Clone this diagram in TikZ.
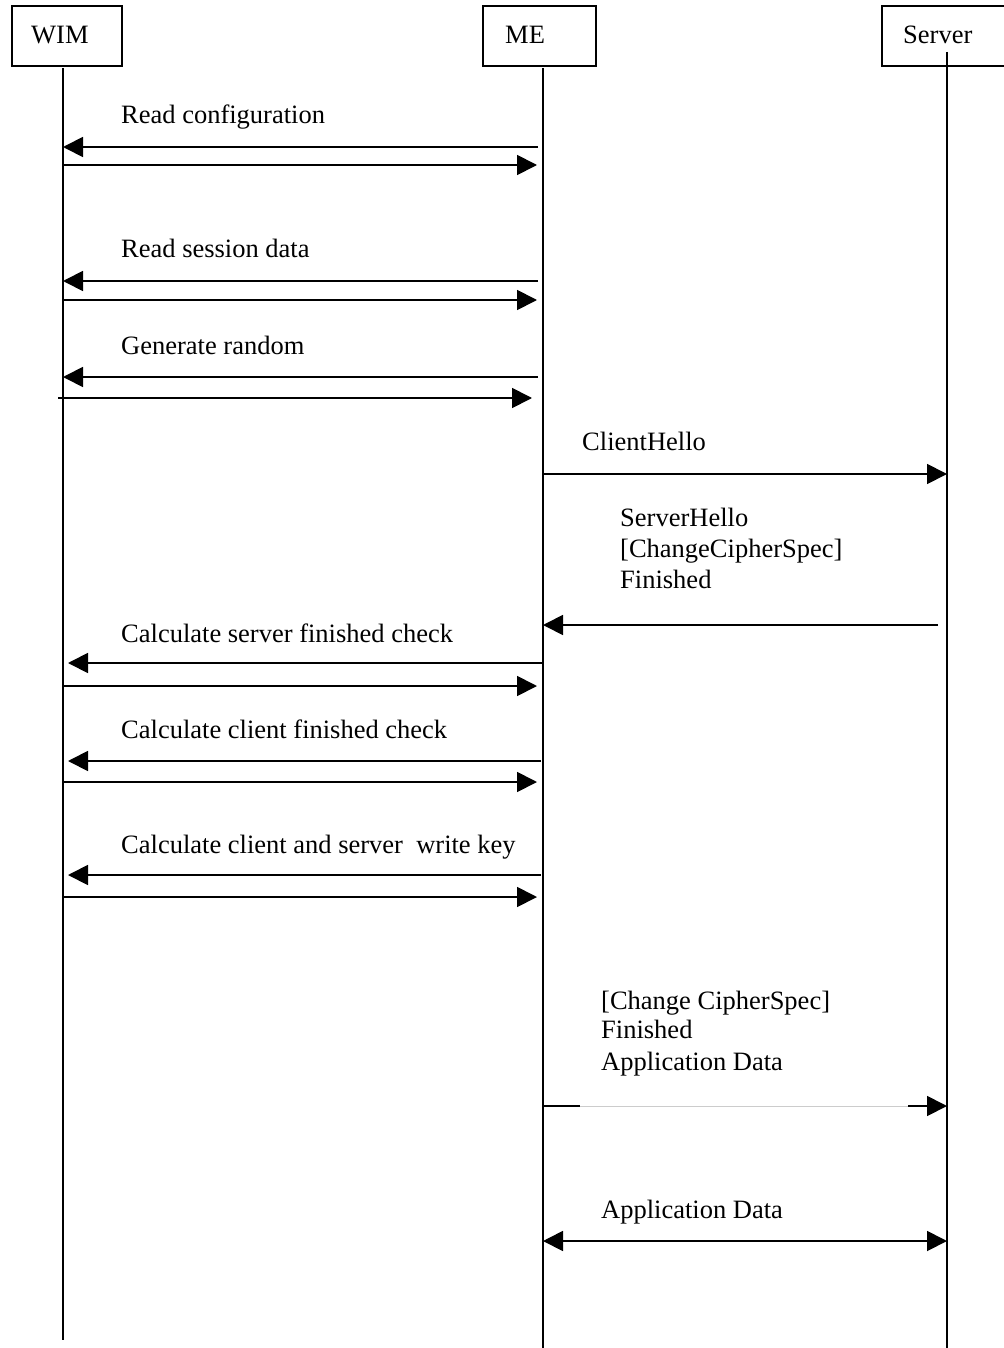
\documentclass[tikz,border=0pt]{standalone}
\usepackage{fontspec}
\setmainfont{Liberation Serif}
\usetikzlibrary{arrows.meta}
\begin{document}
\begin{tikzpicture}[x=1pt,y=-1pt,
  box/.style={draw, line width=1.3pt, minimum height=60pt, inner sep=0pt},
  lbl/.style={anchor=base west, inner sep=0pt, font=\fontsize{26.5}{31}\selectfont},
  life/.style={line width=1.4pt},
  msg/.style={line width=1.8pt, -{Triangle[length=20pt,width=20pt]}},
  dmsg/.style={line width=1.8pt, {Triangle[length=20pt,width=20pt]}-{Triangle[length=20pt,width=20pt]}}
]
\useasboundingbox[fill=white] (0,0) rectangle (1003,1348);

% participant boxes
\node[box, minimum width=110pt] (wim) at (67,36) {};
\node[box, minimum width=113pt] (me) at (539.5,36) {};
\node[box, minimum width=130pt] (srv) at (947,36) {};
\node[lbl] (wimt) at (31,44) {WIM};
\node[lbl] (met) at (505,44) {ME};
\node[lbl] (srvt) at (903,44) {Server};

% lifelines
\coordinate (wtop) at (63,68);  \coordinate (wbot) at (63,1340);
\coordinate (mtop) at (543,68); \coordinate (mbot) at (543,1348);
\coordinate (stop) at (947,52); \coordinate (sbot) at (947,1348);
\draw[life] (wtop) -- (wbot);
\draw[life] (mtop) -- (mbot);
\draw[life] (stop) -- (sbot);

% Read configuration
\node[lbl] (l1) at (121,124) {Read configuration};
\coordinate (m1a) at (538,147); \coordinate (m1b) at (63,147);
\draw[msg] (m1a) -- (m1b);
\coordinate (m2a) at (63,165); \coordinate (m2b) at (537,165);
\draw[msg] (m2a) -- (m2b);

% Read session data
\node[lbl] (l2) at (121,258) {Read session data};
\coordinate (m3a) at (538,281); \coordinate (m3b) at (63,281);
\draw[msg] (m3a) -- (m3b);
\coordinate (m4a) at (63,300); \coordinate (m4b) at (537,300);
\draw[msg] (m4a) -- (m4b);

% Generate random
\node[lbl] (l3) at (121,354) {Generate random};
\coordinate (m5a) at (538,377); \coordinate (m5b) at (63,377);
\draw[msg] (m5a) -- (m5b);
\coordinate (m6a) at (58,398); \coordinate (m6b) at (532,398);
\draw[msg] (m6a) -- (m6b);

% ClientHello
\node[lbl] (l4) at (582,450) {ClientHello};
\coordinate (m7a) at (543,474); \coordinate (m7b) at (947,474);
\draw[msg] (m7a) -- (m7b);

% ServerHello
\node[lbl] (l5a) at (620,526) {ServerHello};
\node[lbl] (l5b) at (620,557) {[ChangeCipherSpec]};
\node[lbl] (l5c) at (620,588) {Finished};
\coordinate (m8a) at (938,625); \coordinate (m8b) at (543,625);
\draw[msg] (m8a) -- (m8b);

% Calculate server finished check
\node[lbl] (l6) at (121,642) {Calculate server finished check};
\coordinate (m9a) at (543,663); \coordinate (m9b) at (68,663);
\draw[msg] (m9a) -- (m9b);
\coordinate (m10a) at (63,686); \coordinate (m10b) at (537,686);
\draw[msg] (m10a) -- (m10b);

% Calculate client finished check
\node[lbl] (l7) at (121,738) {Calculate client finished check};
\coordinate (m11a) at (541,761); \coordinate (m11b) at (68,761);
\draw[msg] (m11a) -- (m11b);
\coordinate (m12a) at (63,782); \coordinate (m12b) at (537,782);
\draw[msg] (m12a) -- (m12b);

% Calculate client and server write key
\node[lbl] (l8) at (121,853) {Calculate client and server\ \ write key};
\coordinate (m13a) at (541,875); \coordinate (m13b) at (68,875);
\draw[msg] (m13a) -- (m13b);
\coordinate (m14a) at (63,897); \coordinate (m14b) at (537,897);
\draw[msg] (m14a) -- (m14b);

% Change CipherSpec / Finished / Application Data
\node[lbl] (l9a) at (601,1009) {[Change CipherSpec]};
\node[lbl] (l9b) at (601,1038) {Finished};
\node[lbl] (l9c) at (601,1070) {Application Data};
\coordinate (m15a) at (543,1106); \coordinate (m15g1) at (580,1106);
\coordinate (m15g2) at (908,1106); \coordinate (m15b) at (947,1106);
\draw[line width=1.8pt] (m15a) -- (m15g1);
\draw[line width=1pt, black!20] (m15g1) -- (m15g2);
\draw[msg] (m15g2) -- (m15b);

% Application Data (both ways)
\node[lbl] (l10) at (601,1218) {Application Data};
\coordinate (m16a) at (543,1241); \coordinate (m16b) at (947,1241);
\draw[dmsg] (m16a) -- (m16b);
\end{tikzpicture}
\end{document}
